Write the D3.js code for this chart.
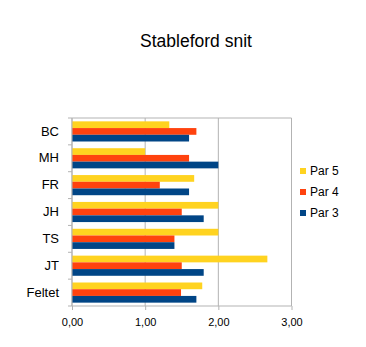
<!DOCTYPE html>
<html><head><meta charset="utf-8">
<script src="https://cdn.jsdelivr.net/npm/d3@7"></script>
<style>body{margin:0;background:#fff}svg{display:block}</style>
</head><body>
<svg id="c" width="366" height="347"></svg>
<script>
const categories = ["BC","MH","FR","JH","TS","JT","Feltet"];
const series = ["Par 5","Par 4","Par 3"];
const par5 = [1.33,1.00,1.67,2.00,2.00,2.67,1.78];
const par4 = [1.70,1.60,1.20,1.50,1.40,1.50,1.49];
const par3 = [1.60,2.00,1.60,1.80,1.40,1.80,1.70];
const colors = ["#FFD320","#FF420E","#004586"];
const xTicks = [0,1,2,3];
const title = "Stableford snit";

const values = [par5,par4,par3];
const svg = d3.select("#c");
const font = "'Liberation Sans', Arial, sans-serif";
const m = {l:72, r:291.5, t:118, b:306};

const x = d3.scaleLinear().domain([0,3]).range([m.l,m.r]);
const y = d3.scaleBand().domain(categories).range([m.t,m.b]).paddingInner(0.25).paddingOuter(0.125);
const ys = d3.scaleBand().domain(series).range([0,y.bandwidth()]);

svg.append("text").attr("x",196).attr("y",47).attr("text-anchor","middle")
  .attr("font-family",font).attr("font-size",17.5).attr("fill","#000").text(title);

// grid
svg.append("g").selectAll("line").data(xTicks).join("line")
  .attr("x1",d=>x(d)).attr("x2",d=>x(d)).attr("y1",m.t).attr("y2",m.b)
  .attr("stroke","#b3b3b3").attr("stroke-width",1);
svg.append("line").attr("x1",m.l).attr("x2",m.r).attr("y1",m.t).attr("y2",m.t).attr("stroke","#b3b3b3");
svg.append("line").attr("x1",m.l).attr("x2",m.r).attr("y1",m.b).attr("y2",m.b).attr("stroke","#b3b3b3");

// bars
const g = svg.append("g");
series.forEach((s,i)=>{
  g.append("g").selectAll("rect").data(categories).join("rect")
    .attr("x",x(0)).attr("y",c=>y(c)+ys(s))
    .attr("width",(c,j)=>x(values[i][j])-x(0))
    .attr("height",ys.bandwidth())
    .attr("fill",colors[i]);
});

// y axis
const yAxis = d3.axisLeft(y).tickSize(0).tickPadding(13);
const ya = svg.append("g").attr("transform",`translate(${m.l},0)`).call(yAxis);
ya.select(".domain").remove();
ya.selectAll("text").attr("font-family",font).attr("font-size",13).attr("fill","#000");
// category boundary ticks
const bounds = d3.range(categories.length+1).map(i=>m.t+i*(m.b-m.t)/categories.length);
svg.append("g").selectAll("line").data(bounds).join("line")
  .attr("x1",m.l-4).attr("x2",m.l).attr("y1",d=>d).attr("y2",d=>d).attr("stroke","#b3b3b3");
svg.append("line").attr("x1",m.l).attr("x2",m.l).attr("y1",m.t).attr("y2",m.b).attr("stroke","#b3b3b3");

// x axis
const xAxis = d3.axisBottom(x).tickValues(xTicks).tickSize(4).tickPadding(8)
  .tickFormat(d=>d3.format(".2f")(d).replace(".",","));
const xa = svg.append("g").attr("transform",`translate(0,${m.b})`).call(xAxis);
xa.select(".domain").remove();
xa.selectAll("line").attr("stroke","#b3b3b3");
xa.selectAll("text").attr("font-family",font).attr("font-size",11).attr("fill","#000");

// legend
const leg = svg.append("g");
const ly = [171,192,213];
series.forEach((s,i)=>{
  leg.append("rect").attr("x",300).attr("y",ly[i]-3).attr("width",6).attr("height",6).attr("fill",colors[i]);
  leg.append("text").attr("x",310).attr("y",ly[i]+4).attr("font-family",font).attr("font-size",12).attr("fill","#000").text(s);
});
</script>
</body></html>
